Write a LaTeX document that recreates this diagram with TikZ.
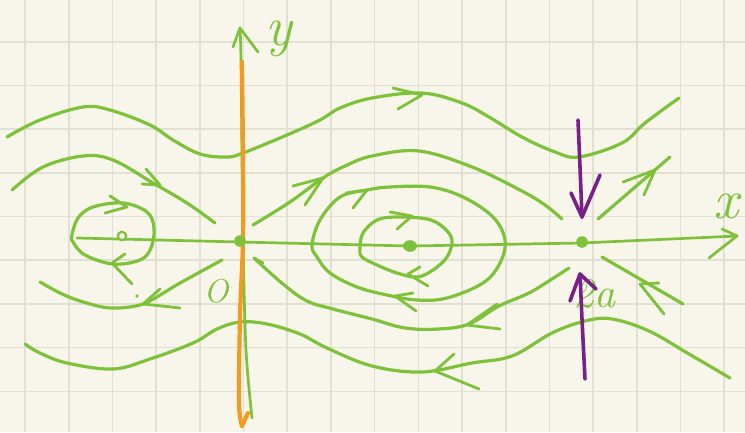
\documentclass[tikz,border=0pt]{standalone}
\usetikzlibrary{arrows.meta}
\definecolor{bgc}{HTML}{F8F6EA}
\definecolor{gridc}{HTML}{E2DFD3}
\definecolor{gr}{HTML}{7DC23A}
\definecolor{orc}{HTML}{F39A22}
\definecolor{pur}{HTML}{7A1F8A}
\tikzset{
  gridline/.style={draw=gridc, line width=1.6pt},
  traj/.style={draw=gr, line width=3.2pt, line cap=round, line join=round},
  axisg/.style={draw=gr, line width=2.7pt, line cap=round, line join=round},
  barbg/.style={draw=gr, line width=2.8pt, line cap=round, line join=round},
  ora/.style={draw=orc, line width=4.2pt, line cap=round, line join=round},
  purp/.style={draw=pur, line width=3.6pt, line cap=round, line join=round},
  lab/.style={text=gr, inner sep=0pt, anchor=base}
}
\begin{document}
\begin{tikzpicture}[x=1pt,y=-1pt]
\fill[bgc] (0,0) rectangle (745,432);
\useasboundingbox (0,0) rectangle (745,432);
% grid
\foreach \i in {0,...,16} \draw[gridline] ({25+43.7*\i},0) -- ({25+43.7*\i},432);
\foreach \j in {0,...,8} \draw[gridline] (0,{41.7+43.7*\j}) -- (745,{41.7+43.7*\j});

% top curve
\draw[traj] plot[smooth, tension=0.6] coordinates {(7,137) (40,120) (83,107) (110,110) (150,125) (173,140) (200,154) (227,157) (243,153) (287,135) (320,120) (340,108) (372,98) (422,93) (462,103) (489,117) (522,137) (555,152) (579,157) (622,143) (645,123) (679,98)};
\draw[barbg] (393,88) -- (422,95) -- (398,109);

% upper-left curve into origin
\draw[traj] plot[smooth, tension=0.6] coordinates {(12,190) (43,167) (83,156) (113,160) (153,183) (187,203) (215,223)};
\draw[barbg] (146,169) -- (160,185) -- (142,184);

% upper separatrix
\draw[traj] plot[smooth, tension=0.6] coordinates {(253,225) (290,202) (323,178) (345,166) (372,156) (419,151) (472,167) (520,190) (545,205) (562,219)};
\draw[barbg] (293,186) -- (323,178) -- (305,205);

% lower separatrix
\draw[traj] plot[smooth, tension=0.6] coordinates {(254,258) (283,284) (307,301) (333,309) (372,319) (405,328) (439,329) (469,324) (499,306) (529,293) (552,279) (569,268)};
\draw[barbg] (497,304) -- (467,325) -- (500,329);
\draw[barbg] (254,258) -- (263,263);

% outer orbit around centre
\draw[traj] plot[smooth cycle, tension=0.6] coordinates {(312,245) (320,220) (340,197) (367,190) (390,187) (430,187) (463,197) (493,217) (505,240) (500,263) (483,283) (447,298) (417,300) (387,295) (357,287) (330,273) (317,257)};
\draw[barbg] (346,193) -- (367,190) -- (353,208);
\draw[barbg] (413,293) -- (395,296) -- (416,311);

% inner orbit
\draw[traj] plot[smooth cycle, tension=0.6] coordinates {(360,248) (363,233) (377,220) (397,217) (427,219) (443,227) (452,240) (447,257) (433,270) (417,277) (397,273) (377,265) (362,257)};
\draw[barbg] (390,212) -- (412,216) -- (397,229);
\draw[barbg] (420,267) -- (408,274) -- (428,286);

% left orbit
\draw[traj] plot[smooth cycle, tension=0.6] coordinates {(72,235) (78,218) (93,207) (123,203) (147,212) (154,228) (151,248) (140,260) (113,264) (85,255) (73,242)};
\draw[barbg] (110,196) -- (127,207) -- (105,213);
\draw[barbg] (125,254) -- (112,263) -- (132,284);

% lower-left outgoing from origin
\draw[traj] plot[smooth, tension=0.5] coordinates {(222,260) (180,283) (143,304) (110,308) (80,301) (60,293) (40,282)};
\draw[barbg] (160,289) -- (143,304) -- (180,308);
\fill[gr] (137,296) circle (1.8);

% bottom curve
\draw[traj] plot[smooth, tension=0.6] coordinates {(25,344) (40,353) (67,363) (113,369) (150,359) (193,343) (217,329) (240,322) (267,324) (300,334) (327,348) (372,366) (422,372) (472,363) (512,356) (552,333) (585,321) (612,319) (649,331) (689,354) (730,378)};
\draw[barbg] (454,354) -- (435,371) -- (479,389);

% right lines at saddle
\draw[traj] (598,219) -- (670,157);
\draw[barbg] (623,182) -- (655,170) -- (644,195);
\draw[traj] (602,257) -- (683,304);
\draw[barbg] (659,283) -- (640,284) -- (664,314);

% x axis
\draw[axisg] (77,238) -- (240,242) -- (410,246) -- (582,243) -- (737,236);
\draw[axisg] (722,229) -- (737,236) -- (709,258);

% y axis
\draw[axisg] plot[smooth, tension=0.5] coordinates {(240,28) (241,62) (243,240) (246,350) (252,418)};
\draw[axisg] (233,47) -- (240,28) -- (258,52);
\draw[ora] plot[smooth, tension=0.5] coordinates {(242,62) (243,157) (243,240) (240,316) (239,403) (242,426)};
\draw[ora] (242,426) -- (248,413);

% equilibrium points
\fill[gr] (240,241) circle (5.8);
\fill[gr] (410,246) ellipse (7 and 5.8);
\fill[gr] (582,242) circle (5.8);
\draw[gr, line width=2.2pt, fill=bgc] (122,236) circle (4.2);

% labels
\node[lab] (ylab) at (279,45) {\fontsize{56}{60}\selectfont\itshape y};
\node[lab] (xlab) at (726,218) {\fontsize{56}{60}\selectfont\itshape x};
\node[lab] (olab) at (216,302) {\fontsize{33}{36}\selectfont\itshape O};
\node[lab] (alab) at (594,307) {\fontsize{42}{46}\selectfont\itshape 2a};

% purple arrows
\draw[purp] plot[smooth, tension=0.5] coordinates {(578,120) (580,167) (582,217)};
\draw[purp] (600,175) -- (582,217) -- (571,193);
\draw[purp] plot[smooth, tension=0.5] coordinates {(585,379) (582,319) (580,274)};
\draw[purp] (570,301) -- (580,274) -- (596,289);
\end{tikzpicture}
\end{document}
